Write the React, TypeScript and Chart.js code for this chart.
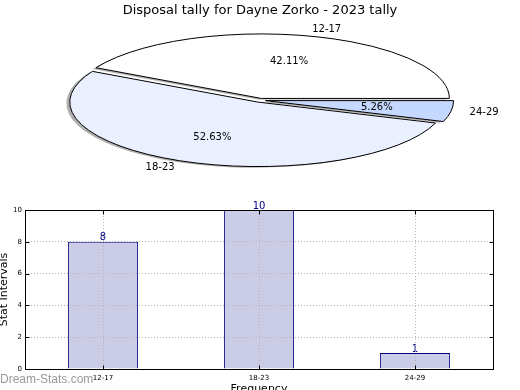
import React, { useEffect, useRef } from 'react';
import { Chart, registerables } from 'chart.js';

Chart.register(...registerables);

// ---- data ----
const categories = ['12-17', '18-23', '24-29'];
const tallies = [8, 10, 1];
const yTickValues = [0, 2, 4, 6, 8, 10];
const chartTitle = 'Disposal tally for Dayne Zorko - 2023 tally';
const xAxisTitle = 'Frequency';
const yAxisTitle = 'Stat Intervals';
const watermarkText = 'Dream-Stats.com';

// ---- styles ----
const sliceColors = ['#ffffff', '#eaf0ff', '#c5d8ff'];
const FONT = '"DejaVu Sans", sans-serif';
const STRETCH_X = 188 / 64.5;
const EXPLODE = 0.03;
const SHADOW_DX = -0.018;
const SHADOW_DY = 0.018;

const ellipsePiePlugin = {
  id: 'ellipsePie',
  beforeDatasetDraw(chart: any, args: any) {
    const ctx = chart.ctx;
    const arcs = args.meta.data;
    const values = chart.data.datasets[0].data as number[];
    const total = values.reduce((a, b) => a + b, 0);
    const geo = arcs.map((el: any) => {
      const p = el.getProps(['x', 'y', 'startAngle', 'endAngle', 'outerRadius'], true);
      const ry = p.outerRadius;
      const rx = p.outerRadius * STRETCH_X;
      const mid = (p.startAngle + p.endAngle) / 2;
      return {
        cx: p.x + Math.cos(mid) * EXPLODE * rx,
        cy: p.y + Math.sin(mid) * EXPLODE * ry,
        rx, ry, s: p.startAngle, e: p.endAngle, mid,
      };
    });
    const path = (g: any, ox: number, oy: number) => {
      ctx.beginPath();
      ctx.moveTo(g.cx + ox, g.cy + oy);
      ctx.ellipse(g.cx + ox, g.cy + oy, g.rx, g.ry, 0, g.s, g.e);
      ctx.closePath();
    };
    ctx.save();
    geo.forEach((g: any) => {
      path(g, SHADOW_DX * g.rx, SHADOW_DY * g.ry);
      ctx.fillStyle = 'rgba(77,77,77,0.45)';
      ctx.fill();
    });
    geo.forEach((g: any, i: number) => {
      path(g, 0, 0);
      ctx.fillStyle = arcs[i].options.backgroundColor;
      ctx.fill();
      ctx.lineWidth = 1;
      ctx.strokeStyle = '#000';
      ctx.stroke();
    });
    ctx.fillStyle = '#000';
    ctx.font = '10px ' + FONT;
    ctx.textBaseline = 'middle';
    geo.forEach((g: any, i: number) => {
      const c = Math.cos(g.mid);
      const s = Math.sin(g.mid);
      ctx.textAlign = c > 0 ? 'left' : 'right';
      ctx.fillText(chart.data.labels[i], g.cx + 1.1 * g.rx * c, g.cy + 1.1 * g.ry * s);
      ctx.textAlign = 'center';
      const pct = ((values[i] / total) * 100).toFixed(2) + '%';
      ctx.fillText(pct, g.cx + 0.6 * g.rx * c, g.cy + 0.6 * g.ry * s);
    });
    ctx.restore();
    return false;
  },
};

const barLabelPlugin = {
  id: 'barLabels',
  afterDatasetsDraw(chart: any) {
    const ctx = chart.ctx;
    const meta = chart.getDatasetMeta(0);
    const values = chart.data.datasets[0].data as number[];
    ctx.save();
    ctx.fillStyle = '#000080';
    ctx.font = '10px ' + FONT;
    ctx.textAlign = 'center';
    ctx.textBaseline = 'bottom';
    meta.data.forEach((el: any, i: number) => {
      ctx.fillText(String(values[i]), el.x, el.y + 1);
    });
    ctx.restore();
  },
};

const framePlugin = {
  id: 'frame',
  afterDraw(chart: any) {
    const { ctx, chartArea: a, scales } = chart;
    ctx.save();
    ctx.strokeStyle = '#000';
    ctx.lineWidth = 1;
    const l = Math.round(a.left) + 0.5;
    const r = Math.round(a.right) + 0.5;
    const t = Math.round(a.top) + 0.5;
    const b = Math.round(a.bottom) + 0.5;
    ctx.beginPath();
    scales.y.ticks.forEach((tk: any) => {
      const y = Math.round(scales.y.getPixelForValue(tk.value)) + 0.5;
      ctx.moveTo(l, y); ctx.lineTo(l + 4, y);
      ctx.moveTo(r, y); ctx.lineTo(r - 4, y);
    });
    scales.x.ticks.forEach((tk: any, i: number) => {
      const x = Math.round(scales.x.getPixelForTick(i)) + 0.5;
      ctx.moveTo(x, b); ctx.lineTo(x, b - 4);
      ctx.moveTo(x, t); ctx.lineTo(x, t + 4);
    });
    ctx.stroke();
    ctx.strokeRect(l, t, r - l, b - t);
    ctx.restore();
  },
};

export default function App() {
  const pieRef = useRef<HTMLCanvasElement>(null);
  const barRef = useRef<HTMLCanvasElement>(null);

  useEffect(() => {
    const pie = new Chart(pieRef.current as HTMLCanvasElement, {
      type: 'pie',
      data: {
        labels: [...categories].reverse(),
        datasets: [{
          data: [...tallies].reverse(),
          backgroundColor: [...sliceColors].reverse(),
          borderWidth: 0,
        }],
      },
      options: {
        responsive: false,
        animation: false,
        devicePixelRatio: 1,
        rotation: 90,
        radius: 64.5,
        layout: { padding: { top: 0, bottom: 8, left: 0, right: 0 } },
        plugins: {
          legend: { display: false },
          tooltip: { enabled: false },
          title: {
            display: true,
            text: chartTitle,
            color: '#000',
            font: { family: FONT, size: 13, weight: 'normal' },
            padding: { top: 3, bottom: 0 },
          },
        },
      } as any,
      plugins: [ellipsePiePlugin],
    });

    const gridColor = '#b4b4b4';
    const bar = new Chart(barRef.current as HTMLCanvasElement, {
      type: 'bar',
      data: {
        labels: categories,
        datasets: [{
          data: tallies,
          backgroundColor: '#cbcce6',
          borderColor: '#000080',
          borderWidth: 1,
          barPercentage: 0.45,
          categoryPercentage: 1,
        }],
      },
      options: {
        responsive: false,
        animation: false,
        devicePixelRatio: 1,
        layout: { padding: { top: 20, right: 27, bottom: 0, left: 0 } },
        plugins: {
          legend: { display: false },
          tooltip: { enabled: false },
        },
        scales: {
          x: {
            grid: { display: true, offset: false, color: gridColor, lineWidth: 1, drawTicks: false, z: 1 },
            border: { display: false, dash: [1, 2] },
            ticks: { color: '#000', font: { family: FONT, size: 7 }, padding: 5 },
            title: {
              display: true, text: xAxisTitle, color: '#000',
              font: { family: FONT, size: 11 }, padding: { top: 0, bottom: 9.5 },
            },
            afterFit: (s: any) => { s.height = 36; },
          },
          y: {
            min: 0,
            max: 10,
            grid: { display: true, color: gridColor, lineWidth: 1, drawTicks: false, z: 1 },
            border: { display: false, dash: [1, 2] },
            ticks: { color: '#000', font: { family: FONT, size: 7 }, padding: 3 },
            afterBuildTicks: (s: any) => { s.ticks = yTickValues.map((v) => ({ value: v })); },
            title: {
              display: true, text: yAxisTitle, color: '#000',
              font: { family: FONT, size: 11 }, padding: { top: -2, bottom: 0 },
            },
            afterFit: (s: any) => { s.width = 25; },
          },
        },
      } as any,
      plugins: [barLabelPlugin, framePlugin],
    });

    return () => { pie.destroy(); bar.destroy(); };
  }, []);

  return (
    <div style={{ position: 'absolute', left: 0, top: 0, width: 520, height: 390, overflow: 'hidden', background: '#fff' }}>
      <canvas ref={pieRef} width={520} height={190}
        style={{ position: 'absolute', left: 0, top: 0, width: 520, height: 190 }} />
      <canvas ref={barRef} width={520} height={215}
        style={{ position: 'absolute', left: 0, top: 190, width: 520, height: 215 }} />
      <div style={{
        position: 'absolute', left: 0, top: 372, fontFamily: '"Liberation Sans", Arial, sans-serif',
        fontSize: 12, color: '#999', whiteSpace: 'nowrap', lineHeight: 'normal',
      }}>{watermarkText}</div>
    </div>
  );
}
